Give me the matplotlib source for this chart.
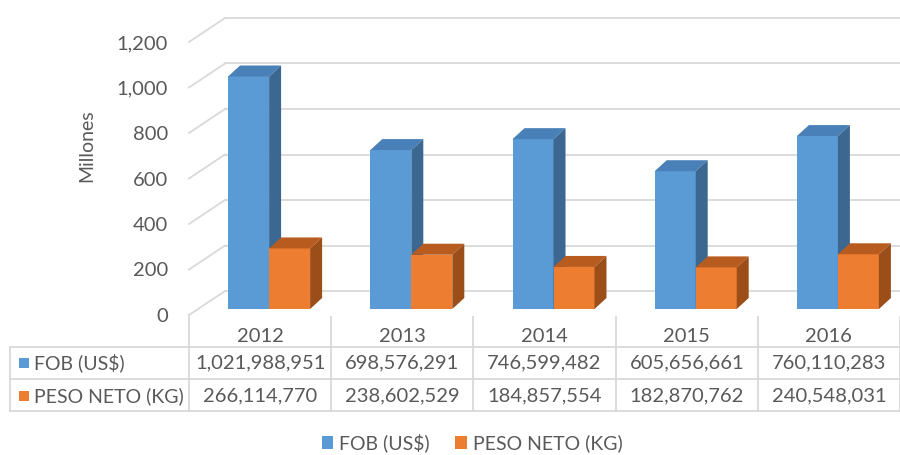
import matplotlib
matplotlib.use("Agg")
import matplotlib.pyplot as plt
from matplotlib.patches import Patch
from matplotlib.transforms import blended_transform_factory

plt.rcParams['font.family'] = ['Lato', 'DejaVu Sans']

years = ["2012", "2013", "2014", "2015", "2016"]
fob = [1021988951, 698576291, 746599482, 605656661, 760110283]
peso = [266114770, 238602529, 184857554, 182870762, 240548031]
series_names = ["FOB (US$)", "PESO NETO (KG)"]
yticks = [0, 200, 400, 600, 800, 1000, 1200]

TXT = "#595959"
GRID = "#d9d9d9"
front_cols = ["#5b9bd5", "#ed7d31"]
top_cols = ["#4a80b8", "#b85b1f"]
side_cols = ["#3b6791", "#9c4e19"]

NUM_FS = 14.5
LAB_FS = 14

W, H = 900, 455
fig = plt.figure(figsize=(9, 4.55), dpi=100)
ax = fig.add_axes([189 / W, 140 / H, 711 / W, 273 / H])
ax.set_xlim(-0.5, 4.5)
ax.set_ylim(0, 1200)
ax.patch.set_alpha(0)
for s in ax.spines.values():
    s.set_visible(False)
ax.set_xticks([])
ax.set_yticks(yticks)
ax.set_yticklabels([f"{v:,}" for v in yticks])
ax.tick_params(axis='y', length=0, pad=15, labelsize=NUM_FS, labelcolor=TXT)

# 3D geometry (pixel -> data units)
px_x = 711 / 5.0          # px per category
px_y = 273 / 1200.0       # px per value unit
DX, DY = 36 / px_x, 24 / px_y          # full depth of the floor / walls
BX, BY = 9 / px_x, 6 / px_y            # bars placed a bit behind front edge
dDX, dDY = 12 / px_x, 11 / px_y        # bar depth
bw = 41 / px_x

# back wall gridlines + left wall diagonals
for v in yticks:
    ax.plot([-0.5 + DX, 4.5], [v + DY, v + DY], color=GRID, lw=1.3, clip_on=False, zorder=1)
    ax.plot([-0.5, -0.5 + DX], [v, v + DY], color=GRID, lw=1.3, clip_on=False, zorder=1)

z = 3
for i in range(len(years)):
    for k, vals in enumerate([fob, peso]):
        v = vals[i] / 1e6
        x0 = i - bw + k * bw + BX
        b = BY
        t = BY + v
        ax.bar(x0, v, width=bw, bottom=b, align='edge', color=front_cols[k],
               linewidth=0, zorder=z, clip_on=False)
        ax.fill([x0, x0 + bw, x0 + bw + dDX, x0 + dDX], [t, t, t + dDY, t + dDY],
                color=top_cols[k], lw=0, zorder=z, clip_on=False)
        ax.fill([x0 + bw, x0 + bw + dDX, x0 + bw + dDX, x0 + bw], [b, b + dDY, t + dDY, t],
                color=side_cols[k], lw=0, zorder=z, clip_on=False)
        z += 1

fig.text(87 / W, 1 - 146 / H, "Millones", rotation=90, ha='center', va='center',
         fontsize=LAB_FS, color=TXT)

# data table
tr = blended_transform_factory(ax.transData, fig.transFigure)
def fy(p):
    return 1 - p / H

for yl in [347, 379, 411]:
    fig.add_artist(plt.Line2D([10 / W, 1.0], [fy(yl), fy(yl)], transform=fig.transFigure,
                              color=GRID, lw=1.3))
fig.add_artist(plt.Line2D([10 / W, 10 / W], [fy(347), fy(411)], transform=fig.transFigure,
                          color=GRID, lw=1.3))
for j in range(len(years) + 1):
    xb = j - 0.5
    top = 315 if j == 0 else 317
    ax.plot([xb, xb], [fy(top), fy(411)], transform=tr, color=GRID, lw=1.3, clip_on=False)

for i, yr in enumerate(years):
    ax.text(i, fy(336), yr, transform=tr, ha='center', va='center', fontsize=NUM_FS, color=TXT)
    ax.text(i, fy(363), f"{fob[i]:,}", transform=tr, ha='center', va='center',
            fontsize=NUM_FS, color=TXT)
    ax.text(i, fy(396), f"{peso[i]:,}", transform=tr, ha='center', va='center',
            fontsize=NUM_FS, color=TXT)

for k, (name, yc) in enumerate(zip(series_names, [363, 396])):
    fig.patches.append(plt.Rectangle((19 / W, fy(yc + 5)), 10 / W, 10 / H,
                                     transform=fig.transFigure, color=front_cols[k], lw=0))
    fig.text(34 / W, fy(yc), name, ha='left', va='center', fontsize=LAB_FS, color=TXT)

# legend
handles = [Patch(facecolor=front_cols[k], edgecolor='none', label=series_names[k]) for k in range(2)]
fig.legend(handles=handles, loc='center', bbox_to_anchor=(472 / W, fy(443)), ncol=2,
           frameon=False, fontsize=LAB_FS, labelcolor=TXT, handlelength=0.6, handleheight=0.6,
           handletextpad=0.3, columnspacing=1.3)

fig.savefig("out.png", dpi=100)
